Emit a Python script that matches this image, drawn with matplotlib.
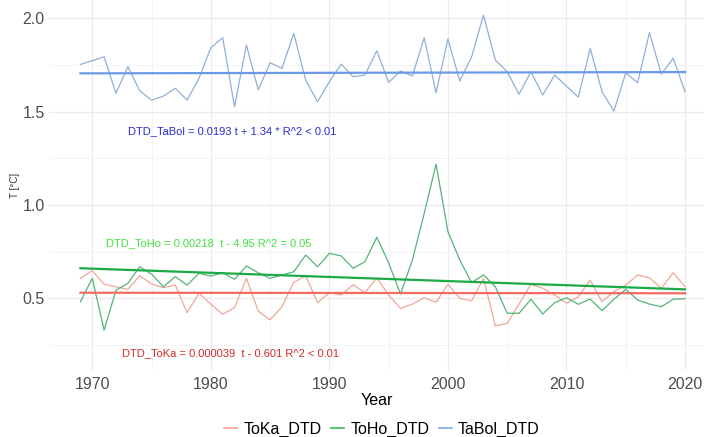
import numpy as np
import matplotlib
matplotlib.use("Agg")
import matplotlib.pyplot as plt
from matplotlib.lines import Line2D

plt.rcParams['font.family'] = ['Liberation Sans', 'DejaVu Sans']

years = list(range(1969, 2021))

toka = [0.607, 0.648, 0.575, 0.562, 0.548, 0.621, 0.577, 0.557, 0.571, 0.423,
        0.527, 0.469, 0.414, 0.450, 0.607, 0.432, 0.384, 0.455, 0.586, 0.621,
        0.477, 0.530, 0.518, 0.573, 0.530, 0.610, 0.518, 0.446, 0.469, 0.503,
        0.479, 0.575, 0.500, 0.486, 0.607, 0.352, 0.366, 0.469, 0.575, 0.554,
        0.518, 0.473, 0.509, 0.598, 0.482, 0.536, 0.571, 0.625, 0.610, 0.554,
        0.637, 0.562]

toho = [0.482, 0.607, 0.330, 0.544, 0.580, 0.669, 0.630, 0.562, 0.616, 0.571,
        0.634, 0.619, 0.637, 0.602, 0.673, 0.637, 0.607, 0.625, 0.642, 0.732,
        0.669, 0.741, 0.727, 0.661, 0.696, 0.827, 0.690, 0.523, 0.705, 0.955,
        1.219, 0.857, 0.705, 0.584, 0.625, 0.562, 0.420, 0.420, 0.495, 0.416,
        0.477, 0.503, 0.468, 0.496, 0.434, 0.495, 0.548, 0.491, 0.469, 0.455,
        0.495, 0.498]

tabol = [1.753, 1.773, 1.794, 1.598, 1.741, 1.612, 1.562, 1.583, 1.625, 1.562,
         1.678, 1.842, 1.896, 1.526, 1.857, 1.616, 1.762, 1.732, 1.919, 1.669,
         1.553, 1.660, 1.755, 1.687, 1.696, 1.826, 1.657, 1.717, 1.691, 1.896,
         1.601, 1.889, 1.664, 1.794, 2.017, 1.776, 1.714, 1.593, 1.714, 1.589,
         1.696, 1.637, 1.577, 1.839, 1.607, 1.503, 1.708, 1.655, 1.923, 1.701,
         1.786, 1.607]

# trend line values at first and last year
trend_toka = [0.530, 0.527]
trend_toho = [0.661, 0.548]
trend_tabol = [1.705, 1.712]

series_names = ['ToKa_DTD', 'ToHo_DTD', 'TaBol_DTD']
line_colors = ['#F0A898', '#55B478', '#8FB0D8']
trend_colors = ['#F26B63', '#1BAA45', '#6A9AE6']
legend_colors = ['#F8A090', '#3CB860', '#7FA8E0']

labels = ['DTD_TaBol = 0.0193 t + 1.34 * R^2 < 0.01',
          'DTD_ToHo = 0.00218  t - 4.95 R^2 = 0.05',
          'DTD_ToKa = 0.000039  t - 0.601 R^2 < 0.01']
label_pos = [(1981.8, 1.396), (1979.8, 0.798), (1981.7, 0.205)]
label_colors = ['#2A2ACF', '#40E040', '#D42A2A']

fig = plt.figure(figsize=(7.04, 4.37), dpi=100)
ax = fig.add_axes([49 / 704, 67 / 437, 1 - 49 / 704, 370 / 437])

ax.set_xlim(1966.35, 2021.6)
ax.set_ylim(0.116, 2.098)

ax.set_xticks([1970, 1980, 1990, 2000, 2010, 2020])
ax.set_xticks([1975, 1985, 1995, 2005, 2015], minor=True)
ax.set_yticks([0.5, 1.0, 1.5, 2.0])
ax.set_yticks([0.25, 0.75, 1.25, 1.75], minor=True)
ax.grid(which='major', color='#EBEBEB', linewidth=0.9)
ax.grid(which='minor', color='#F2F2F2', linewidth=0.6)
ax.set_axisbelow(True)
for s in ax.spines.values():
    s.set_visible(False)
ax.tick_params(which='both', length=0)
ax.tick_params(axis='both', labelsize=11.5, labelcolor='#4D4D4D')
ax.tick_params(axis='x', pad=5)
ax.tick_params(axis='y', pad=3)

data = [toka, toho, tabol]
trends = [trend_toka, trend_toho, trend_tabol]
for vals, c in zip(data, line_colors):
    ax.plot(years, vals, color=c, linewidth=0.9)
for tr, c in zip(trends, trend_colors):
    ax.plot([years[0], years[-1]], tr, color=c, linewidth=1.6)

for txt, (x, y), c in zip(labels, label_pos, label_colors):
    ax.text(x, y, txt, color=c, fontsize=8, ha='center', va='center')

ax.set_xlabel('Year', fontsize=11.5, color='black', labelpad=1)
ax.set_ylabel('T [°C]', fontsize=7, color='#333333', labelpad=2)

handles = [Line2D([0], [0], color=c, linewidth=1.2) for c in legend_colors]
fig.legend(handles, series_names, loc='center', bbox_to_anchor=(382 / 704, 1 - 429 / 437),
           ncol=3, frameon=False, fontsize=11.5, handlelength=0.8, handletextpad=0.4,
           columnspacing=0.6, borderpad=0.2)

fig.savefig('out.png', dpi=100)
